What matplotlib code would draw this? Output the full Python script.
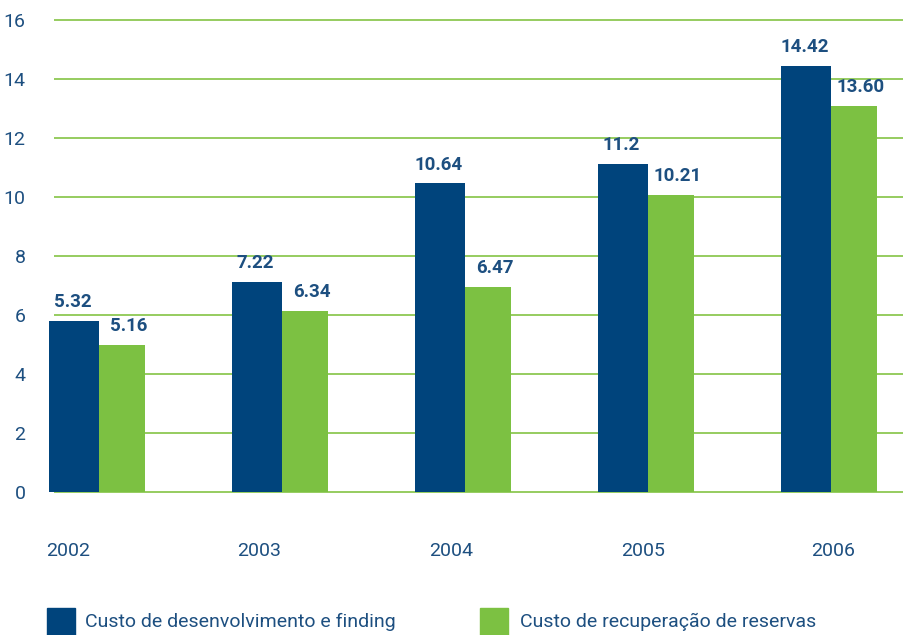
import matplotlib.pyplot as plt
import numpy as np
from matplotlib.patches import Rectangle

# dados
anos = ["2002", "2003", "2004", "2005", "2006"]
series = ["Custo de desenvolvimento e finding", "Custo de recuperação de reservas"]
custo_dev = [5.80, 7.12, 10.46, 11.13, 14.45]      # altura das barras azuis
custo_rec = [4.99, 6.14, 6.96, 10.07, 13.09]       # altura das barras verdes
rotulo_dev = ["5.32", "7.22", "10.64", "11.2", "14.42"]
rotulo_rec = ["5.16", "6.34", "6.47", "10.21", "13.60"]
yticks = [0, 2, 4, 6, 8, 10, 12, 14, 16]

azul = "#00447c"
verde = "#7cc142"
grade = "#8dc853"
texto = "#1d4f80"

plt.rcParams['font.family'] = ['Roboto', 'DejaVu Sans']

fig = plt.figure(figsize=(9.04, 6.35), dpi=100)
W, H = 904, 635
# eixo: x em px = 99 + 183*x ; y de 0 (492px) a 16 (20px)
ax = fig.add_axes([45 / W, (H - 492) / H, (W - 45) / W, (492 - 20) / H])

x = np.arange(len(anos))
w_azul = 50 / 183
w_verde = 46 / 183
ax.hlines(yticks, (54 - 99) / 183, 5, color=grade, lw=1.3, zorder=1, clip_on=False)
ax.bar(x, custo_dev, width=-w_azul, align='edge', color=azul, zorder=2)
ax.bar(x, custo_rec, width=w_verde, align='edge', color=verde, zorder=2)

for xi, h, t in zip(x, custo_dev, rotulo_dev):
    ax.annotate(t, (xi - w_azul / 2, h), xytext=(-1, 10), textcoords='offset points',
                ha='center', va='baseline', fontsize=13.5, fontweight='bold', color=texto)
for xi, h, t in zip(x, custo_rec, rotulo_rec):
    ax.annotate(t, (xi + w_verde / 2, h), xytext=(5, 10), textcoords='offset points',
                ha='center', va='baseline', fontsize=13.5, fontweight='bold', color=texto)

ax.set_xlim((45 - 99) / 183, (W - 99) / 183)
ax.set_ylim(0, 16)
ax.set_yticks(yticks)
ax.set_yticklabels([str(v) for v in yticks], fontsize=14, color=texto)
ax.tick_params(axis='y', length=0, pad=14)
ax.set_xticks([])
for s in ax.spines.values():
    s.set_visible(False)

# anos (espaçamento ligeiramente diferente das barras)
pos_anos = (np.array([68, 259, 451, 643, 833]) - 99) / 183
for p, a in zip(pos_anos, anos):
    ax.text(p, -59 / 472, a, transform=ax.get_xaxis_transform(), ha='center',
            va='center', fontsize=14, color=texto)

# legenda
for (px, tx), nome, cor in zip([(47, 85), (480, 520)], series, [azul, verde]):
    fig.add_artist(Rectangle((px / W, 0), 28 / W, 27 / H, transform=fig.transFigure,
                             color=cor))
    fig.text(tx / W, (H - 622) / H, nome, ha='left', va='center', fontsize=14,
             color=texto)

fig.savefig("out.png", dpi=100)
